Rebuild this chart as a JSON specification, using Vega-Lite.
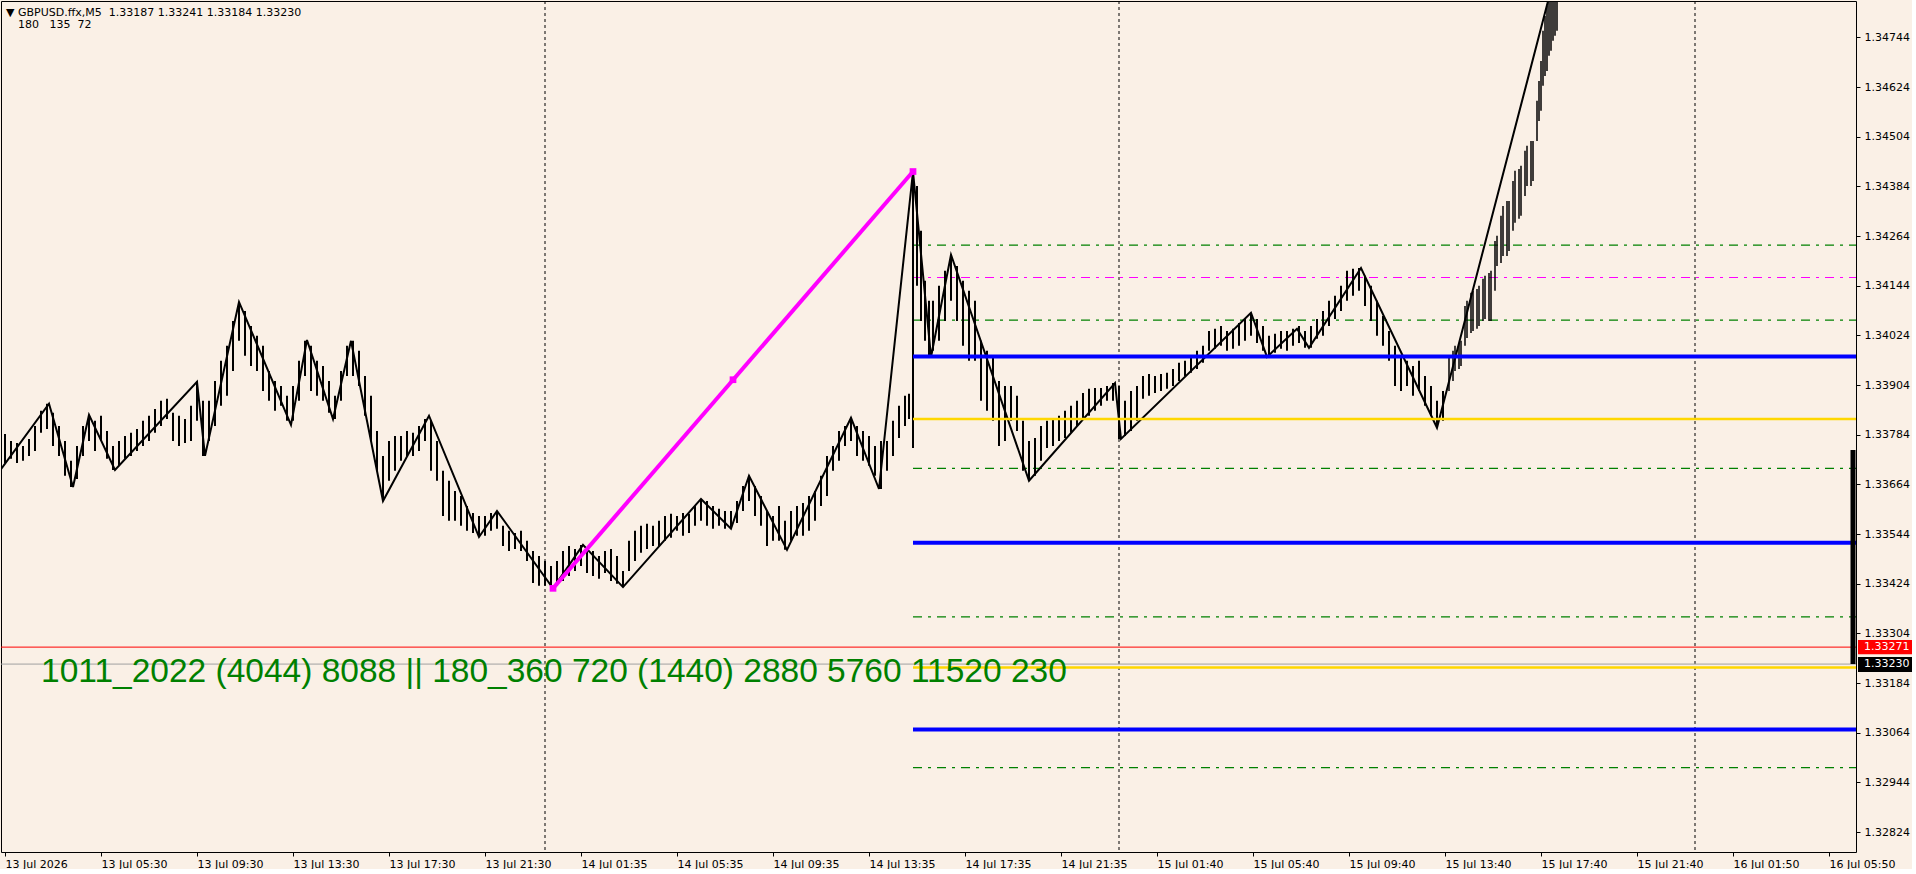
{
"$schema":"https://vega.github.io/schema/vega-lite/v6.json",
"width":1855,"height":851,"padding":0,"background":"#FAF0E6",
"config":{"view":{"stroke":"#000000","strokeWidth":1,"fill":"#FAF0E6"},
"axis":{"grid":false,"domain":false,"labelFont":"DejaVu Sans","labelFontSize":11,"labelColor":"#000000","tickColor":"#000000","tickSize":4,"labelFlush":false,"labelOverlap":false}},
"datasets":{
"days":[{"i":270},{"i":557},{"i":845}],
"levels":[
{"k":"g","i":454,"e":926,"p":1.34242},{"k":"g","i":454,"e":926,"p":1.34061},{"k":"g","i":454,"e":926,"p":1.33703},{"k":"g","i":454,"e":926,"p":1.33344},{"k":"g","i":454,"e":926,"p":1.32980},
{"k":"m","i":454,"e":926,"p":1.34164},
{"k":"b","i":454,"e":926,"p":1.33973},{"k":"b","i":454,"e":926,"p":1.33523},{"k":"b","i":454,"e":926,"p":1.33072},
{"k":"y","i":454,"e":926,"p":1.33822},{"k":"y","i":454,"e":926,"p":1.33222}],
"prices":[{"k":"ask","p":1.33271},{"k":"bid","p":1.33230}],
"bars":[
{"i":0,"h":1.33786,"l":1.33716},{"i":3,"h":1.33769,"l":1.33726},{"i":6,"h":1.33764,"l":1.33716},{"i":9,"h":1.33757,"l":1.33721},{"i":12,"h":1.33774,"l":1.33733},{"i":15,"h":1.33805,"l":1.33745},{"i":18,"h":1.33842,"l":1.33789},{"i":21,"h":1.33859,"l":1.33798},{"i":24,"h":1.33837,"l":1.33757},{"i":27,"h":1.33805,"l":1.33733},{"i":30,"h":1.33769,"l":1.33685},{"i":33,"h":1.33721,"l":1.33658},{"i":36,"h":1.33757,"l":1.33677},{"i":39,"h":1.33805,"l":1.33733},{"i":42,"h":1.33832,"l":1.33769},{"i":45,"h":1.33818,"l":1.33745},{"i":48,"h":1.33830,"l":1.33769},{"i":51,"h":1.33793,"l":1.33726},{"i":54,"h":1.33757,"l":1.33699},{"i":57,"h":1.33769,"l":1.33709},{"i":60,"h":1.33781,"l":1.33726},{"i":63,"h":1.33789,"l":1.33733},{"i":66,"h":1.33798,"l":1.33745},{"i":69,"h":1.33818,"l":1.33757},{"i":72,"h":1.33830,"l":1.33769},{"i":75,"h":1.33846,"l":1.33789},{"i":78,"h":1.33866,"l":1.33805},{"i":81,"h":1.33871,"l":1.33822},{"i":84,"h":1.33837,"l":1.33769},{"i":87,"h":1.33830,"l":1.33757},{"i":90,"h":1.33822,"l":1.33764},{"i":93,"h":1.33854,"l":1.33769},{"i":96,"h":1.33912,"l":1.33818},{"i":99,"h":1.33866,"l":1.33733},
{"i":102,"h":1.33866,"l":1.33769},{"i":105,"h":1.33914,"l":1.33805},{"i":108,"h":1.33963,"l":1.33854},{"i":111,"h":1.33999,"l":1.33878},{"i":114,"h":1.34059,"l":1.33938},{"i":117,"h":1.34105,"l":1.34011},{"i":120,"h":1.34083,"l":1.33975},{"i":123,"h":1.34047,"l":1.33950},{"i":126,"h":1.34023,"l":1.33938},{"i":129,"h":1.33999,"l":1.33890},{"i":132,"h":1.33938,"l":1.33866},{"i":135,"h":1.33914,"l":1.33842},{"i":138,"h":1.33902,"l":1.33854},{"i":141,"h":1.33878,"l":1.33818},{"i":144,"h":1.33902,"l":1.33818},{"i":147,"h":1.33963,"l":1.33866},{"i":150,"h":1.34011,"l":1.33926},{"i":153,"h":1.33999,"l":1.33890},{"i":156,"h":1.33963,"l":1.33878},{"i":159,"h":1.33950,"l":1.33866},{"i":162,"h":1.33914,"l":1.33837},{"i":165,"h":1.33878,"l":1.33822},{"i":168,"h":1.33938,"l":1.33866},{"i":171,"h":1.33999,"l":1.33926},{"i":174,"h":1.34011,"l":1.33926},{"i":177,"h":1.33987,"l":1.33902},{"i":180,"h":1.33926,"l":1.33830},{"i":183,"h":1.33878,"l":1.33769},{"i":186,"h":1.33793,"l":1.33697},{"i":189,"h":1.33733,"l":1.33624},{"i":192,"h":1.33769,"l":1.33673},{"i":195,"h":1.33781,"l":1.33697},{"i":198,"h":1.33781,"l":1.33721},
{"i":201,"h":1.33793,"l":1.33733},{"i":204,"h":1.33789,"l":1.33733},{"i":207,"h":1.33805,"l":1.33745},{"i":210,"h":1.33822,"l":1.33769},{"i":213,"h":1.33818,"l":1.33697},{"i":216,"h":1.33769,"l":1.33673},{"i":219,"h":1.33697,"l":1.33588},{"i":222,"h":1.33673,"l":1.33576},{"i":225,"h":1.33648,"l":1.33576},{"i":228,"h":1.33636,"l":1.33564},{"i":231,"h":1.33612,"l":1.33552},{"i":234,"h":1.33595,"l":1.33547},{"i":237,"h":1.33588,"l":1.33537},{"i":240,"h":1.33588,"l":1.33540},{"i":243,"h":1.33595,"l":1.33552},{"i":246,"h":1.33600,"l":1.33557},{"i":249,"h":1.33564,"l":1.33515},{"i":252,"h":1.33552,"l":1.33503},{"i":255,"h":1.33547,"l":1.33508},{"i":258,"h":1.33552,"l":1.33503},{"i":261,"h":1.33528,"l":1.33479},{"i":264,"h":1.33503,"l":1.33426},{"i":267,"h":1.33491,"l":1.33419},{"i":270,"h":1.33479,"l":1.33419},{"i":273,"h":1.33467,"l":1.33414},{"i":276,"h":1.33479,"l":1.33419},{"i":279,"h":1.33503,"l":1.33431},{"i":282,"h":1.33515,"l":1.33443},{"i":285,"h":1.33508,"l":1.33455},{"i":288,"h":1.33518,"l":1.33467},{"i":291,"h":1.33508,"l":1.33450},{"i":294,"h":1.33503,"l":1.33443},{"i":297,"h":1.33491,"l":1.33436},
{"i":300,"h":1.33503,"l":1.33450},{"i":303,"h":1.33508,"l":1.33431},{"i":306,"h":1.33491,"l":1.33424},{"i":309,"h":1.33455,"l":1.33416},{"i":312,"h":1.33528,"l":1.33455},{"i":315,"h":1.33552,"l":1.33479},{"i":318,"h":1.33564,"l":1.33499},{"i":321,"h":1.33569,"l":1.33508},{"i":324,"h":1.33564,"l":1.33515},{"i":327,"h":1.33576,"l":1.33515},{"i":330,"h":1.33588,"l":1.33528},{"i":333,"h":1.33593,"l":1.33535},{"i":336,"h":1.33588,"l":1.33552},{"i":339,"h":1.33595,"l":1.33540},{"i":342,"h":1.33593,"l":1.33547},{"i":345,"h":1.33612,"l":1.33564},{"i":348,"h":1.33629,"l":1.33576},{"i":351,"h":1.33624,"l":1.33564},{"i":354,"h":1.33612,"l":1.33557},{"i":357,"h":1.33605,"l":1.33564},{"i":360,"h":1.33600,"l":1.33557},{"i":363,"h":1.33600,"l":1.33557},{"i":366,"h":1.33624,"l":1.33571},{"i":369,"h":1.33660,"l":1.33600},{"i":372,"h":1.33685,"l":1.33624},{"i":375,"h":1.33660,"l":1.33588},{"i":378,"h":1.33636,"l":1.33564},{"i":381,"h":1.33600,"l":1.33515},{"i":384,"h":1.33588,"l":1.33528},{"i":387,"h":1.33612,"l":1.33528},{"i":390,"h":1.33576,"l":1.33506},{"i":393,"h":1.33600,"l":1.33528},{"i":396,"h":1.33612,"l":1.33540},{"i":399,"h":1.33619,"l":1.33540},
{"i":402,"h":1.33636,"l":1.33552},{"i":405,"h":1.33648,"l":1.33576},{"i":408,"h":1.33685,"l":1.33612},{"i":411,"h":1.33733,"l":1.33636},{"i":414,"h":1.33757,"l":1.33697},{"i":417,"h":1.33793,"l":1.33721},{"i":420,"h":1.33805,"l":1.33757},{"i":423,"h":1.33825,"l":1.33769},{"i":426,"h":1.33805,"l":1.33733},{"i":429,"h":1.33793,"l":1.33721},{"i":432,"h":1.33781,"l":1.33709},{"i":435,"h":1.33757,"l":1.33685},{"i":438,"h":1.33769,"l":1.33653},{"i":441,"h":1.33769,"l":1.33697},{"i":444,"h":1.33818,"l":1.33733},{"i":447,"h":1.33854,"l":1.33776},{"i":450,"h":1.33878,"l":1.33805},{"i":452,"h":1.33883,"l":1.33822},{"i":454,"h":1.34420,"l":1.33752},{"i":456,"h":1.34385,"l":1.34144},{"i":458,"h":1.34277,"l":1.34059},{"i":460,"h":1.34156,"l":1.34011},{"i":462,"h":1.34108,"l":1.33972},{"i":464,"h":1.34108,"l":1.33987},{"i":467,"h":1.34144,"l":1.34011},{"i":470,"h":1.34180,"l":1.34059},{"i":473,"h":1.34219,"l":1.34108},{"i":476,"h":1.34192,"l":1.34059},{"i":479,"h":1.34156,"l":1.33999},{"i":482,"h":1.34132,"l":1.33963},{"i":485,"h":1.34108,"l":1.33963},{"i":488,"h":1.34011,"l":1.33866},{"i":491,"h":1.33987,"l":1.33842},{"i":494,"h":1.33975,"l":1.33818},{"i":497,"h":1.33914,"l":1.33757},
{"i":500,"h":1.33902,"l":1.33769},{"i":503,"h":1.33902,"l":1.33818},{"i":506,"h":1.33878,"l":1.33793},{"i":509,"h":1.33818,"l":1.33697},{"i":512,"h":1.33769,"l":1.33673},{"i":515,"h":1.33776,"l":1.33685},{"i":518,"h":1.33805,"l":1.33721},{"i":521,"h":1.33818,"l":1.33752},{"i":524,"h":1.33822,"l":1.33757},{"i":527,"h":1.33830,"l":1.33769},{"i":530,"h":1.33842,"l":1.33776},{"i":533,"h":1.33854,"l":1.33789},{"i":536,"h":1.33866,"l":1.33805},{"i":539,"h":1.33885,"l":1.33822},{"i":542,"h":1.33895,"l":1.33830},{"i":545,"h":1.33897,"l":1.33842},{"i":548,"h":1.33897,"l":1.33854},{"i":551,"h":1.33902,"l":1.33866},{"i":554,"h":1.33909,"l":1.33866},{"i":557,"h":1.33902,"l":1.33774},{"i":560,"h":1.33866,"l":1.33781},{"i":563,"h":1.33890,"l":1.33793},{"i":566,"h":1.33902,"l":1.33818},{"i":569,"h":1.33926,"l":1.33871},{"i":572,"h":1.33931,"l":1.33878},{"i":575,"h":1.33926,"l":1.33885},{"i":578,"h":1.33931,"l":1.33890},{"i":581,"h":1.33934,"l":1.33895},{"i":584,"h":1.33943,"l":1.33902},{"i":587,"h":1.33958,"l":1.33914},{"i":590,"h":1.33963,"l":1.33926},{"i":593,"h":1.33975,"l":1.33934},{"i":596,"h":1.33987,"l":1.33943},{"i":599,"h":1.33999,"l":1.33958},
{"i":602,"h":1.34035,"l":1.33987},{"i":605,"h":1.34040,"l":1.33992},{"i":608,"h":1.34047,"l":1.33999},{"i":611,"h":1.34035,"l":1.33987},{"i":614,"h":1.34040,"l":1.33992},{"i":617,"h":1.34054,"l":1.33999},{"i":620,"h":1.34064,"l":1.34011},{"i":623,"h":1.34079,"l":1.34023},{"i":626,"h":1.34064,"l":1.34006},{"i":629,"h":1.34047,"l":1.33987},{"i":632,"h":1.34023,"l":1.33972},{"i":635,"h":1.34028,"l":1.33982},{"i":638,"h":1.34035,"l":1.33992},{"i":641,"h":1.34035,"l":1.33987},{"i":644,"h":1.34040,"l":1.33999},{"i":647,"h":1.34047,"l":1.34006},{"i":650,"h":1.34035,"l":1.33994},{"i":653,"h":1.34047,"l":1.33994},{"i":656,"h":1.34064,"l":1.34016},{"i":659,"h":1.34083,"l":1.34023},{"i":662,"h":1.34108,"l":1.34047},{"i":665,"h":1.34120,"l":1.34064},{"i":668,"h":1.34144,"l":1.34083},{"i":671,"h":1.34180,"l":1.34108},{"i":674,"h":1.34185,"l":1.34120},{"i":677,"h":1.34187,"l":1.34132},{"i":680,"h":1.34168,"l":1.34095},{"i":683,"h":1.34144,"l":1.34059},{"i":686,"h":1.34108,"l":1.34023},{"i":689,"h":1.34071,"l":1.33999},{"i":692,"h":1.34035,"l":1.33963},{"i":695,"h":1.33999,"l":1.33902},{"i":698,"h":1.33975,"l":1.33890},
{"i":701,"h":1.33963,"l":1.33902},{"i":704,"h":1.33950,"l":1.33878},{"i":707,"h":1.33963,"l":1.33890},{"i":710,"h":1.33926,"l":1.33854},{"i":713,"h":1.33902,"l":1.33830},{"i":716,"h":1.33866,"l":1.33801},{"i":719,"h":1.33890,"l":1.33818},{"i":722,"h":1.33975,"l":1.33890},{"i":724,"h":1.33987,"l":1.33914},{"i":725,"h":1.33999,"l":1.33938},{"i":727,"h":1.34006,"l":1.33943},{"i":728,"h":1.34011,"l":1.33950},{"i":730,"h":1.34095,"l":1.33999},{"i":731,"h":1.34108,"l":1.34018},{"i":733,"h":1.34127,"l":1.34030},{"i":734,"h":1.34132,"l":1.34035},{"i":736,"h":1.34136,"l":1.34040},{"i":737,"h":1.34144,"l":1.34047},{"i":739,"h":1.34161,"l":1.34059},{"i":740,"h":1.34168,"l":1.34064},{"i":742,"h":1.34175,"l":1.34059},{"i":743,"h":1.34180,"l":1.34059},{"i":745,"h":1.34252,"l":1.34132},{"i":746,"h":1.34265,"l":1.34192},{"i":748,"h":1.34313,"l":1.34199},{"i":749,"h":1.34337,"l":1.34216},{"i":751,"h":1.34349,"l":1.34216},{"i":752,"h":1.34349,"l":1.34228},{"i":754,"h":1.34397,"l":1.34277},{"i":755,"h":1.34422,"l":1.34296},{"i":757,"h":1.34426,"l":1.34306},{"i":758,"h":1.34434,"l":1.34313},{"i":760,"h":1.34470,"l":1.34361},{"i":761,"h":1.34482,"l":1.34385},{"i":763,"h":1.34494,"l":1.34385},{"i":764,"h":1.34494,"l":1.34397},{"i":766,"h":1.34591,"l":1.34494},{"i":767,"h":1.34639,"l":1.34542},{"i":768,"h":1.34687,"l":1.34567},{"i":769,"h":1.34760,"l":1.34627},{"i":770,"h":1.34796,"l":1.34651},{"i":771,"h":1.34820,"l":1.34663},{"i":772,"h":1.34832,"l":1.34700},{"i":773,"h":1.34844,"l":1.34712},{"i":774,"h":1.34844,"l":1.34736},{"i":775,"h":1.34852,"l":1.34748},{"i":776,"h":1.34857,"l":1.34760}],
"zigzag":[{"i":-2,"p":1.33701},{"i":22,"p":1.33859},{"i":34,"p":1.33658},{"i":42,"p":1.33832},{"i":55,"p":1.33699},{"i":96,"p":1.33912},{"i":100,"p":1.33733},{"i":117,"p":1.34105},{"i":143,"p":1.33808},{"i":151,"p":1.34013},{"i":164,"p":1.33822},{"i":173,"p":1.34011},{"i":189,"p":1.33624},{"i":212,"p":1.33830},{"i":237,"p":1.33537},{"i":246,"p":1.33600},{"i":274,"p":1.33413},{"i":289,"p":1.33518},{"i":309,"p":1.33416},{"i":348,"p":1.33629},{"i":363,"p":1.33557},{"i":372,"p":1.33685},{"i":391,"p":1.33506},{"i":423,"p":1.33825},{"i":437,"p":1.33653},{"i":454,"p":1.34420},{"i":463,"p":1.33972},{"i":473,"p":1.34219},{"i":512,"p":1.33673},{"i":555,"p":1.33909},{"i":558,"p":1.33774},{"i":623,"p":1.34079},{"i":631,"p":1.33972},{"i":646,"p":1.34040},{"i":652,"p":1.33994},{"i":678,"p":1.34187},{"i":716,"p":1.33801},{"i":776,"p":1.34915}],
"swing":[{"i":274,"p":1.33413},{"i":454,"p":1.34420}],
"swingPts":[{"i":274,"p":1.33413},{"i":364,"p":1.33917},{"i":454,"p":1.34420}],
"gauge":[{"i":924,"p":1.33747,"q":1.33230}],
"notes":[{"i":0.5,"p":1.34796,"t":"▼ GBPUSD.ffx,M5\u00a0\u00a01.33187 1.33241 1.33184 1.33230"},{"i":6.5,"p":1.34767,"t":"180\u00a0\u00a0\u00a0135\u00a0\u00a072"}],
"banner":[{"i":18,"p":1.33186,"t":"1011_2022 (4044) 8088 || 180_360 720 (1440) 2880 5760 11520 230"}],
"boxes":[{"k":"ask","i":926.5,"e":953.5,"p":1.33288,"q":1.33254,"v":1.33271,"t":"1.33271"},{"k":"bid","i":926.5,"e":953.5,"p":1.33247,"q":1.33211,"v":1.33230,"t":"1.33230"}]
},
"layer":[
{"data":{"name":"days"},"mark":{"type":"rule","color":"#000000","strokeWidth":1,"strokeDash":[3,3]},
 "encoding":{"x":{"field":"i","type":"quantitative","title":null,
   "scale":{"domain":[-2,925.5],"nice":false,"zero":false},
   "axis":{"orient":"bottom","values":[0,48,96,144,192,240,288,336,384,432,480,528,576,624,672,720,768,816,864,912],
     "labelExpr":"['13 Jul 2026','13 Jul 05:30','13 Jul 09:30','13 Jul 13:30','13 Jul 17:30','13 Jul 21:30','14 Jul 01:35','14 Jul 05:35','14 Jul 09:35','14 Jul 13:35','14 Jul 17:35','14 Jul 21:35','15 Jul 01:40','15 Jul 05:40','15 Jul 09:40','15 Jul 13:40','15 Jul 17:40','15 Jul 21:40','16 Jul 01:50','16 Jul 05:50'][round(datum.value/48)]",
     "labelAlign":"left","labelBaseline":"top","labelPadding":2}}}},
{"data":{"name":"levels"},"transform":[{"filter":"datum.k=='g'"}],"mark":{"type":"rule","color":"#008000","strokeWidth":1.2,"strokeDash":[9,6,3,6],"clip":true},
 "encoding":{"x":{"field":"i","type":"quantitative","title":null},"x2":{"field":"e"},
   "y":{"field":"p","type":"quantitative","title":null,
     "scale":{"domain":[1.32776,1.34832],"nice":false,"zero":false},
     "axis":{"orient":"right","values":[1.32824,1.32944,1.33064,1.33184,1.33304,1.33424,1.33544,1.33664,1.33784,1.33904,1.34024,1.34144,1.34264,1.34384,1.34504,1.34624,1.34744],"format":".5f","labelPadding":4,"labelAlign":"left","labelBaseline":"middle"}}}},
{"data":{"name":"levels"},"transform":[{"filter":"datum.k=='m'"}],"mark":{"type":"rule","color":"#FF00FF","strokeWidth":1.2,"strokeDash":[9,6,3,6],"clip":true},
 "encoding":{"x":{"field":"i","type":"quantitative","title":null},"x2":{"field":"e"},"y":{"field":"p","type":"quantitative","title":null}}},
{"data":{"name":"bars"},"transform":[{"filter":"datum.i < 722"}],"mark":{"type":"rule","color":"#000000","strokeWidth":2,"clip":true},
 "encoding":{"x":{"field":"i","type":"quantitative","title":null},"y":{"field":"l","type":"quantitative","title":null},"y2":{"field":"h"}}},
{"data":{"name":"bars"},"transform":[{"filter":"datum.i >= 722"}],"mark":{"type":"rule","color":"#000000","strokeWidth":1.5,"clip":true},
 "encoding":{"x":{"field":"i","type":"quantitative","title":null},"y":{"field":"l","type":"quantitative","title":null},"y2":{"field":"h"}}},
{"data":{"name":"zigzag"},"mark":{"type":"line","color":"#000000","strokeWidth":2,"clip":true},
 "encoding":{"x":{"field":"i","type":"quantitative","title":null},"y":{"field":"p","type":"quantitative","title":null}}},
{"data":{"name":"levels"},"transform":[{"filter":"datum.k=='b'"}],"mark":{"type":"rule","color":"#0000FF","strokeWidth":4,"clip":true},
 "encoding":{"x":{"field":"i","type":"quantitative","title":null},"x2":{"field":"e"},"y":{"field":"p","type":"quantitative","title":null}}},
{"data":{"name":"levels"},"transform":[{"filter":"datum.k=='y'"}],"mark":{"type":"rule","color":"#FFD700","strokeWidth":2.5,"clip":true},
 "encoding":{"x":{"field":"i","type":"quantitative","title":null},"x2":{"field":"e"},"y":{"field":"p","type":"quantitative","title":null}}},
{"data":{"name":"prices"},"transform":[{"filter":"datum.k=='ask'"}],"mark":{"type":"rule","color":"#FF0000","strokeWidth":1},
 "encoding":{"y":{"field":"p","type":"quantitative","title":null}}},
{"data":{"name":"prices"},"transform":[{"filter":"datum.k=='bid'"}],"mark":{"type":"rule","color":"#A0A0A0","strokeWidth":1},
 "encoding":{"y":{"field":"p","type":"quantitative","title":null}}},
{"data":{"name":"swing"},"mark":{"type":"line","color":"#FF00FF","strokeWidth":4},
 "encoding":{"x":{"field":"i","type":"quantitative","title":null},"y":{"field":"p","type":"quantitative","title":null}}},
{"data":{"name":"swingPts"},"mark":{"type":"point","shape":"square","filled":true,"color":"#FF00FF","size":45,"opacity":1},
 "encoding":{"x":{"field":"i","type":"quantitative","title":null},"y":{"field":"p","type":"quantitative","title":null}}},
{"data":{"name":"gauge"},"mark":{"type":"rule","color":"#000000","strokeWidth":5},
 "encoding":{"x":{"field":"i","type":"quantitative","title":null},"y":{"field":"p","type":"quantitative","title":null},"y2":{"field":"q"}}},
{"data":{"name":"notes"},"mark":{"type":"text","font":"DejaVu Sans","fontSize":11,"color":"#000000","align":"left","baseline":"alphabetic"},
 "encoding":{"x":{"field":"i","type":"quantitative","title":null},"y":{"field":"p","type":"quantitative","title":null},"text":{"field":"t"}}},
{"data":{"name":"banner"},"mark":{"type":"text","font":"Liberation Sans","fontSize":33.5,"color":"#008000","align":"left","baseline":"alphabetic"},
 "encoding":{"x":{"field":"i","type":"quantitative","title":null},"y":{"field":"p","type":"quantitative","title":null},"text":{"field":"t"}}},
{"data":{"name":"boxes"},"transform":[{"filter":"datum.k=='ask'"}],"mark":{"type":"rect","color":"#FF0000"},
 "encoding":{"x":{"field":"i","type":"quantitative","title":null},"x2":{"field":"e"},"y":{"field":"p","type":"quantitative","title":null},"y2":{"field":"q"}}},
{"data":{"name":"boxes"},"transform":[{"filter":"datum.k=='bid'"}],"mark":{"type":"rect","color":"#000000"},
 "encoding":{"x":{"field":"i","type":"quantitative","title":null},"x2":{"field":"e"},"y":{"field":"p","type":"quantitative","title":null},"y2":{"field":"q"}}},
{"data":{"name":"boxes"},"mark":{"type":"text","font":"DejaVu Sans","fontSize":11,"color":"#FFFFFF","align":"left","baseline":"middle","dx":6},
 "encoding":{"x":{"field":"i","type":"quantitative","title":null},"y":{"field":"v","type":"quantitative","title":null},"text":{"field":"t"}}}
]
}
